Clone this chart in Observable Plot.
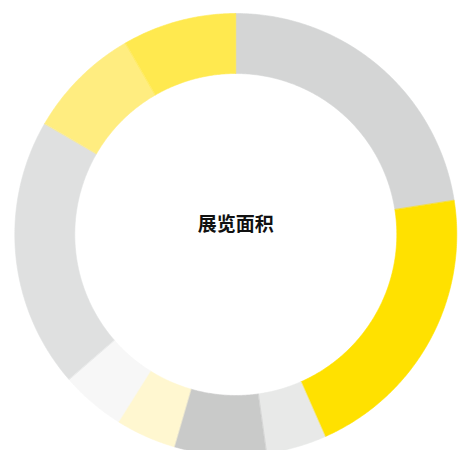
<!DOCTYPE html>
<html>
<head>
<meta charset="utf-8">
<script src="https://cdn.jsdelivr.net/npm/d3@7"></script>
<script src="https://cdn.jsdelivr.net/npm/@observablehq/plot@0.6"></script>
<style>
  html, body { margin: 0; padding: 0; background: #fff; overflow: hidden; }
</style>
</head>
<body>
<div id="chart"></div>
<script>
const title = "展览面积";
const categories = ["类别1", "类别2", "类别3", "类别4", "类别5", "类别6", "类别7", "类别8", "类别9"];
const values = [22.5, 20.8, 4.4, 6.7, 4.4, 4.7, 19.7, 8.3, 8.3];
const colors = ["#d4d5d5", "#ffe100", "#e8e9e8", "#c9cac9", "#fff7d0", "#f7f7f7", "#dfe0e0", "#ffed80", "#ffe94f"];

const innerRatio = 161 / 221;

const pie = d3.pie().sort(null).value(d => d.value)(
  categories.map((c, i) => ({category: c, value: values[i]}))
);

const pts = [];
for (const s of pie) {
  const a0 = s.startAngle, a1 = s.endAngle;
  const n = Math.max(8, Math.ceil((a1 - a0) / (Math.PI / 360)));
  for (let k = 0; k <= n; k++) {
    const a = a0 + (a1 - a0) * k / n;
    pts.push({category: s.data.category, x: Math.sin(a), y: Math.cos(a)});
  }
  for (let k = n; k >= 0; k--) {
    const a = a0 + (a1 - a0) * k / n;
    pts.push({category: s.data.category, x: innerRatio * Math.sin(a), y: innerRatio * Math.cos(a)});
  }
}

const chart = Plot.plot({
  width: 462,
  height: 450,
  marginLeft: 14.3,
  marginRight: 5.7,
  marginTop: 13,
  marginBottom: -5,
  x: {domain: [-1, 1], axis: null},
  y: {domain: [-1, 1], axis: null},
  color: {domain: categories, range: colors},
  style: {background: "white", overflow: "hidden"},
  marks: [
    Plot.line(pts, {x: "x", y: "y", z: "category", fill: "category", stroke: "category", strokeWidth: 0.6, curve: "linear-closed"}),
    Plot.text([title], {frameAnchor: "middle", dy: -10, text: d => d, fontSize: 19, fontWeight: "bold", fill: "#111", fontFamily: "Noto Sans CJK SC"})
  ]
});
document.getElementById("chart").appendChild(chart);
</script>
</body>
</html>
